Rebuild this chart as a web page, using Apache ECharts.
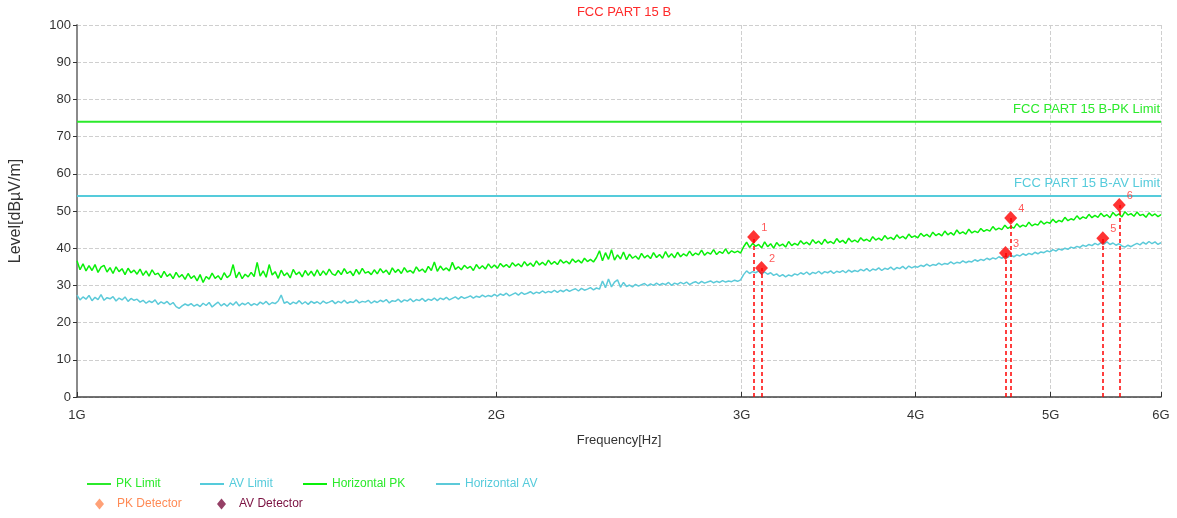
<!DOCTYPE html>
<html>
<head>
<meta charset="utf-8">
<script src="https://cdn.jsdelivr.net/npm/echarts@6/dist/echarts.min.js"></script>
<style>html,body{margin:0;padding:0;background:#fff}#c{width:1177px;height:518px}</style>
</head>
<body>
<div id="c"></div>
<script>
// ---- data ----
var xTicks = [1, 2, 3, 4, 5, 6];           // GHz
var yTicks = [0, 10, 20, 30, 40, 50, 60, 70, 80, 90, 100];
var pkLimit = 74;
var avLimit = 54;
var sweepStart = 1, sweepStop = 6;          // GHz, sweep points spaced evenly on log scale
var horizontalPK = [
36.6,34.2,35.8,33.9,35.3,34.0,35.6,33.5,34.9,35.4,33.6,34.8,33.2,35.0,33.7,34.5,32.9,34.6,33.4,34.1,
33.0,34.4,32.7,33.9,32.5,34.2,32.9,33.3,32.1,33.8,32.4,33.1,31.8,33.5,32.2,32.9,31.6,33.2,31.9,32.6,
31.2,32.9,30.8,32.4,31.7,33.3,31.9,32.6,31.5,33.4,32.1,32.8,35.6,32.0,33.6,31.8,33.0,32.3,33.5,32.4,
36.2,32.5,33.9,32.2,35.6,32.8,33.7,31.9,34.1,32.6,33.4,32.0,34.3,32.9,33.6,32.3,34.0,32.7,33.8,32.5,
34.2,32.6,33.9,32.8,34.4,33.1,32.7,34.0,32.9,34.5,33.2,33.8,32.6,34.3,33.0,34.6,33.3,33.7,32.9,34.2,
33.1,34.5,33.4,34.1,32.9,34.7,33.5,34.3,33.2,34.8,33.6,34.0,33.3,35.0,33.8,34.4,33.5,35.1,34.0,36.3,
33.8,35.2,34.1,34.7,33.9,36.2,34.3,35.0,34.2,35.4,34.6,35.1,34.0,35.6,34.5,35.3,34.4,35.8,34.7,35.5,
34.6,35.9,35.0,35.6,34.8,36.1,35.2,35.8,35.0,36.4,35.3,36.0,35.1,36.6,35.5,36.2,35.4,36.8,35.7,36.4,
35.6,36.9,36.0,36.5,35.8,37.1,36.2,36.8,36.0,37.3,36.4,37.0,36.3,37.5,39.3,36.6,38.8,37.0,39.6,36.8,
38.2,37.1,39.0,36.9,38.4,37.3,37.9,37.0,38.6,37.4,38.1,37.2,38.8,37.5,38.3,37.3,39.1,37.6,38.5,37.4,
38.9,37.7,38.5,37.9,39.2,38.0,38.7,38.2,39.5,38.1,38.9,38.4,39.6,38.3,39.1,38.6,39.8,38.5,39.3,38.8,
39.2,38.7,40.4,41.6,40.2,41.3,40.5,41.0,40.1,41.7,40.4,41.2,40.0,41.5,40.6,41.1,40.3,41.8,40.7,41.3,
40.8,42.0,41.1,41.6,40.9,42.3,41.3,41.9,41.0,42.4,41.4,41.8,41.2,42.6,41.6,42.1,41.3,42.7,41.7,42.2,
41.6,42.8,42.0,42.4,41.8,43.1,42.2,42.7,42.1,43.4,42.5,42.9,42.3,43.6,42.7,43.2,42.5,43.8,42.9,43.3,
42.8,44.0,43.2,43.7,43.0,44.3,43.4,43.9,43.3,44.6,43.6,44.2,43.5,44.9,43.9,44.4,43.8,45.1,44.1,44.6,
44.2,45.3,44.5,45.0,44.6,45.8,44.9,45.4,45.0,46.2,45.3,45.8,45.4,46.6,45.7,46.2,45.8,47.0,46.0,46.5,
46.2,47.3,46.5,47.0,46.7,47.8,46.9,47.5,47.1,48.3,47.4,47.9,47.6,48.7,47.8,48.4,48.0,49.1,48.2,48.8,
48.3,49.4,48.5,49.0,48.2,49.6,48.7,49.2,48.4,49.8,48.9,49.3,48.6,49.7,48.8,49.1,48.3,49.5,48.7,49.2,48.5,49.0
];
var horizontalAV = [
27.4,26.1,26.9,26.3,27.3,25.9,26.8,26.2,27.5,26.0,26.7,26.4,27.0,25.8,26.6,26.1,26.9,25.7,26.5,26.0,
26.3,25.5,26.0,25.2,25.8,25.4,26.1,24.9,25.6,25.1,25.7,24.8,25.4,24.3,23.8,24.5,25.0,24.6,25.1,24.4,
24.9,24.3,25.2,24.6,25.4,24.2,24.9,25.5,24.5,25.1,24.4,25.3,24.7,25.6,24.5,25.2,24.8,25.4,24.6,25.1,
24.7,25.5,25.0,25.7,24.8,25.4,25.1,25.8,27.4,25.2,25.6,24.9,25.5,25.1,25.9,25.0,25.6,24.9,25.7,25.2,
25.6,25.0,25.8,25.2,25.5,25.9,25.1,25.7,25.3,26.0,25.2,25.6,25.4,26.1,25.3,25.7,25.5,26.0,25.2,25.8,
25.4,26.0,25.6,26.2,25.3,25.9,25.7,26.3,25.5,26.1,25.8,26.4,25.6,26.2,25.9,26.5,25.7,26.3,26.0,26.6,
25.9,26.6,26.2,26.8,26.1,26.5,26.9,26.3,27.0,26.5,26.8,27.2,26.6,27.1,26.8,27.4,26.9,27.3,27.0,27.6,
27.1,27.7,27.3,27.9,27.2,27.6,28.0,27.4,28.1,27.6,27.9,28.3,27.7,28.2,27.9,28.5,28.0,28.4,28.1,28.7,
28.1,28.7,28.3,28.9,28.4,28.8,29.1,28.5,29.2,28.7,29.0,29.4,28.8,29.3,29.0,31.2,29.4,31.7,29.6,30.9,
31.5,29.5,30.8,29.7,30.1,29.6,30.3,29.8,30.2,30.5,29.9,30.4,30.0,30.6,30.1,30.5,30.2,30.8,30.0,30.6,
30.3,30.8,30.4,30.9,30.2,30.7,31.0,30.5,31.1,30.6,30.9,31.2,30.7,31.1,30.8,31.3,30.9,31.2,31.0,31.4,
31.1,31.5,32.9,33.9,33.2,33.7,33.4,33.9,33.1,33.6,33.0,33.4,32.7,33.1,32.4,32.9,32.3,32.8,32.5,33.1,
32.8,33.4,33.0,33.6,32.9,33.5,33.2,33.8,33.1,33.7,33.4,33.9,33.2,33.8,33.5,34.0,33.4,34.1,33.6,34.0,
33.7,34.3,33.9,34.5,33.8,34.4,34.1,34.7,34.0,34.6,34.3,34.9,34.2,34.8,34.5,35.1,34.4,35.2,34.7,35.1,
34.9,35.4,35.1,35.7,35.2,35.6,35.4,36.0,35.5,35.9,35.7,36.3,35.8,36.2,36.0,36.6,36.1,36.5,36.3,36.9,
36.5,37.0,36.7,37.3,36.9,37.4,37.1,37.7,37.3,37.8,37.5,38.1,37.7,38.2,37.9,38.5,38.1,38.6,38.3,38.9,
38.5,39.0,38.8,39.3,39.0,39.6,39.2,39.8,39.5,40.0,39.7,40.3,40.0,40.5,40.2,40.8,40.5,41.0,40.7,41.3,
40.9,41.5,41.1,41.7,41.0,41.4,40.8,41.2,40.6,40.3,40.8,40.4,40.9,41.3,40.9,41.6,41.1,41.8,41.2,41.7,41.0,41.5
];
var markerFreq  = [3.06, 3.10, 4.64, 4.68, 5.45, 5.60];
var markerLevel = [43.0, 34.7, 38.7, 48.1, 42.7, 51.6];
var markerNames = ['1', '2', '3', '4', '5', '6'];

// ---- build ----
var n = horizontalPK.length;
var ratio = sweepStop / sweepStart;
var freqs = horizontalPK.map(function (_, i) { return sweepStart * Math.pow(ratio, i / (n - 1)); });
var pkData = freqs.map(function (f, i) { return [f, horizontalPK[i]]; });
var avData = freqs.map(function (f, i) { return [f, horizontalAV[i]]; });
var markerData = markerFreq.map(function (f, i) { return { value: [f, markerLevel[i]], name: markerNames[i] }; });
var markerLines = markerFreq.map(function (f, i) { return [{ coord: [f, 0] }, { coord: [f, markerLevel[i]] }]; });

var GREEN = '#2BEA2B', TRACE_G = '#0AF00A', CYAN = '#55CBDB', TRACE_C = '#5CCAD9';
var FONT = 'Liberation Sans';

function lg(name, left, top, color, icon) {
  var isD = icon === 'diamond';
  return {
    data: [name], left: left, top: top, orient: 'horizontal', padding: 0,
    icon: icon, itemWidth: isD ? 9 : 24, itemHeight: isD ? 11 : 2,
    textStyle: { color: color, fontSize: 12, fontFamily: FONT, padding: isD ? [0, 0, 0, 8] : 0 }
  };
}

var chart = echarts.init(document.getElementById('c'), null, { renderer: 'canvas' });
chart.setOption({
  animation: false,
  backgroundColor: '#fff',
  title: { text: 'FCC PART 15 B', left: 619, top: 1, textAlign: 'center',
    textStyle: { color: '#FF2A2A', fontSize: 13, fontWeight: 'normal', fontFamily: FONT } },
  grid: { left: 77, right: 16, top: 25, bottom: 121, containLabel: false, outerBoundsMode: 'none' },
  legend: [
    lg('PK Limit', 87, 478, GREEN, 'rect'),
    lg('AV Limit', 200, 478, CYAN, 'rect'),
    lg('Horizontal PK', 303, 478, GREEN, 'rect'),
    lg('Horizontal AV', 436, 478, CYAN, 'rect'),
    lg('PK Detector', 95, 498, '#FF8A55', 'diamond'),
    lg('AV Detector', 217, 498, '#7A1040', 'diamond')
  ],
  xAxis: {
    type: 'log', logBase: 10, min: sweepStart, max: sweepStop,
    name: 'Frequency[Hz]', nameLocation: 'middle', nameGap: 37,
    nameTextStyle: { color: '#333', fontSize: 13, fontFamily: FONT },
    axisLine: { lineStyle: { color: '#444', width: 1.5 } },
    axisTick: { show: true, inside: true, length: 5, customValues: xTicks, lineStyle: { color: '#333' } },
    axisLabel: { customValues: xTicks, margin: 12, color: '#333', fontSize: 13, fontFamily: FONT,
      formatter: function (v) { return Math.round(v) + 'G'; } },
    splitLine: { show: true, lineStyle: { color: '#cfcfcf', type: 'dashed', width: 1 } },
    minorTick: { show: false }, minorSplitLine: { show: false }
  },
  yAxis: {
    type: 'value', min: 0, max: 100, interval: 10,
    name: 'Level[dBµV/m]', nameLocation: 'middle', nameGap: 53,
    nameTextStyle: { color: '#333', fontSize: 16, fontFamily: FONT },
    axisLine: { show: true, lineStyle: { color: '#8a8a8a', width: 2 } },
    axisTick: { show: true, length: 4, lineStyle: { color: '#333' } },
    axisLabel: { margin: 6, color: '#333', fontSize: 13, fontFamily: FONT,
      formatter: function (v) { return yTicks.indexOf(v) >= 0 ? String(v) : ''; } },
    splitLine: { show: true, lineStyle: { color: '#cfcfcf', type: 'dashed', width: 1 } }
  },
  series: [
    { name: 'PK Limit', type: 'line', showSymbol: false, symbol: 'none', color: GREEN,
      lineStyle: { color: GREEN, width: 2 }, data: [[sweepStart, pkLimit], [sweepStop, pkLimit]], z: 3,
      markLine: { silent: true, symbol: 'none', lineStyle: { color: 'rgba(0,0,0,0)', width: 1 },
        data: [{ yAxis: pkLimit }],
        label: { show: true, position: 'insideEndTop', distance: 6, offset: [5, 0], formatter: 'FCC PART 15 B-PK Limit',
          color: GREEN, fontSize: 13, fontFamily: FONT } } },
    { name: 'AV Limit', type: 'line', showSymbol: false, symbol: 'none', color: CYAN,
      lineStyle: { color: CYAN, width: 2 }, data: [[sweepStart, avLimit], [sweepStop, avLimit]], z: 3,
      markLine: { silent: true, symbol: 'none', lineStyle: { color: 'rgba(0,0,0,0)', width: 1 },
        data: [{ yAxis: avLimit }],
        label: { show: true, position: 'insideEndTop', distance: 6, offset: [5, 0], formatter: 'FCC PART 15 B-AV Limit',
          color: CYAN, fontSize: 13, fontFamily: FONT } } },
    { name: 'Horizontal PK', type: 'line', showSymbol: false, symbol: 'none', color: TRACE_G,
      lineStyle: { color: TRACE_G, width: 1.5 }, data: pkData, z: 2 },
    { name: 'Horizontal AV', type: 'line', showSymbol: false, symbol: 'none', color: TRACE_C,
      lineStyle: { color: TRACE_C, width: 1.5 }, data: avData, z: 2 },
    { name: 'PK Detector', type: 'scatter', symbol: 'diamond', color: '#FF8A55', data: [] },
    { name: 'AV Detector', type: 'scatter', symbol: 'diamond', color: '#7A1040', data: [] },
    { name: 'Markers', type: 'scatter', symbol: 'diamond', symbolSize: [13, 14], z: 5,
      itemStyle: { color: '#FF0000' }, data: markerData,
      label: { show: true, position: 'right', offset: [-4, -9], formatter: '{b}',
        color: '#FF3030', fontSize: 11, fontFamily: FONT },
      markLine: { silent: true, symbol: 'none', animation: false,
        lineStyle: { color: '#FF0000', type: [4, 3], width: 1.5 },
        label: { show: false }, data: markerLines } }
  ]
});
</script>
</body>
</html>
